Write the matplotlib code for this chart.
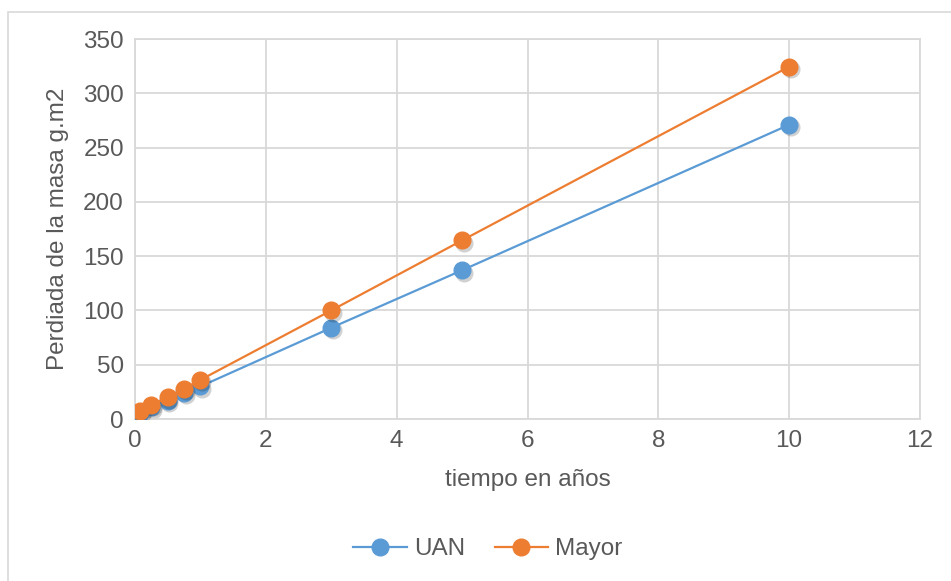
import matplotlib
matplotlib.use("Agg")
import matplotlib.pyplot as plt
import matplotlib.transforms as mtransforms
from matplotlib.lines import Line2D

plt.rcParams['font.family'] = ['Liberation Sans', 'DejaVu Sans']

tiempo = [0.083, 0.25, 0.5, 0.75, 1, 3, 5, 10]
uan = [5.5, 11, 17, 24, 30, 84, 137, 271]
mayor = [7, 13, 20, 28, 36, 100, 164.5, 324.5]
xticks = [0, 2, 4, 6, 8, 10, 12]
yticks = [0, 50, 100, 150, 200, 250, 300, 350]

blue = '#5B9BD5'
orange = '#ED7D31'
txt = '#595959'
grid = '#D9D9D9'
fs = 17.5

fig = plt.figure(figsize=(9.51, 5.81), dpi=100)
fig.patches.append(plt.Rectangle((8/951, -0.1), 2, 1.1 - 12/581, transform=fig.transFigure,
                                 fill=False, edgecolor='#D9D9D9', linewidth=1.2, zorder=0))
ax = fig.add_axes([135/951, 1 - 419/581, (920 - 135)/951, (419 - 39)/581])

shift = ax.transData + mtransforms.ScaledTranslation(1.5/100, -2.5/100, fig.dpi_scale_trans)
for ser, z in ((uan, 2.5), (mayor, 3.5)):
    ax.plot(tiempo, ser, ls='none', marker='o', ms=13, mfc='#000000', mec='none',
            alpha=0.18, transform=shift, zorder=z)

ax.plot(tiempo, uan, color=blue, lw=1.6, marker='o', ms=12, mec=blue, mfc=blue,
        label='UAN', zorder=3)
ax.plot(tiempo, mayor, color=orange, lw=1.6, marker='o', ms=12, mec=orange, mfc=orange,
        label='Mayor', zorder=4)

ax.set_xlim(0, 12)
ax.set_ylim(0, 350)
ax.set_xticks(xticks)
ax.set_yticks(yticks)
ax.grid(True, color=grid, lw=1.3)
ax.set_axisbelow(True)
for s in ax.spines.values():
    s.set_color(grid)
    s.set_linewidth(1.3)
ax.tick_params(length=0, labelsize=fs, labelcolor=txt, pad=8)
ax.set_xlabel('tiempo en años', fontsize=fs, color=txt, labelpad=12)
ax.set_ylabel('Perdiada de la masa g.m2', fontsize=fs, color=txt, labelpad=10)

handles = [Line2D([], [], color=blue, lw=1.6, marker='o', ms=12),
           Line2D([], [], color=orange, lw=1.6, marker='o', ms=12)]
fig.legend(handles, ['UAN', 'Mayor'], loc='center', bbox_to_anchor=(488/951, 1 - 549/581),
           ncol=2, frameon=False, fontsize=fs, labelcolor=txt, handlelength=2.2,
           columnspacing=1.2, handletextpad=0.3)

fig.savefig('out.png', dpi=100)
